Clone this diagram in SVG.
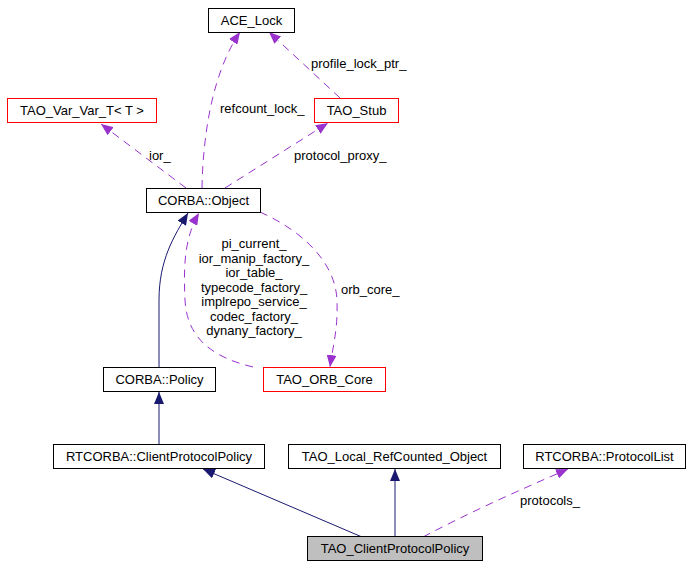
<svg xmlns="http://www.w3.org/2000/svg" width="691" height="565" viewBox="0 0 691 565">
<style>
text{font-family:"Liberation Sans",Arial,sans-serif;font-size:13px;fill:#000}
.n{fill:#fff;stroke:#000;stroke-width:1}
.r{fill:#fff;stroke:#ff0000;stroke-width:1}
.g{fill:#bfbfbf;stroke:#000;stroke-width:1}
.c{text-anchor:middle}
.b{fill:none;stroke:#191970;stroke-width:1}
.p{fill:none;stroke:#9a32cd;stroke-width:1;stroke-dasharray:8,6}
</style>
<defs>
<marker id="ab" markerUnits="userSpaceOnUse" markerWidth="12" markerHeight="10" refX="12" refY="5" orient="auto"><path d="M0,0L12,5L0,10z" fill="#191970"/></marker>
<marker id="ap" markerUnits="userSpaceOnUse" markerWidth="12" markerHeight="10" refX="12" refY="5" orient="auto"><path d="M0,0L12,5L0,10z" fill="#9a32cd"/></marker>
</defs>
<rect width="691" height="565" fill="#fff"/>
<g id="edges">
<path class="p" d="M186,188L101,124" marker-end="url(#ap)"/>
<path class="p" d="M202,188C203,130 214,70 240,32" marker-end="url(#ap)"/>
<path class="p" d="M340,98L269,32" marker-end="url(#ap)"/>
<path class="p" d="M225,188L328,123" marker-end="url(#ap)"/>
<path class="b" d="M159,367L159,300C159,260 174,236 188,213" marker-end="url(#ab)"/>
<path class="p" d="M253,367C215,358 187,340 185,300C183,260 186,235 199,213" marker-end="url(#ap)"/>
<path class="p" d="M260,212C300,230 335,260 337,300C338,330 333,345 330,367" marker-end="url(#ap)"/>
<path class="b" d="M159,444L159,392" marker-end="url(#ab)"/>
<path class="b" d="M362,537L203,469" marker-end="url(#ab)"/>
<path class="b" d="M395,537L395,469" marker-end="url(#ab)"/>
<path class="p" d="M423,537C470,512 520,490 568,469" marker-end="url(#ap)"/>
<text x="149" y="160">ior_</text>
<text x="220" y="113">refcount_lock_</text>
<text x="311" y="68">profile_lock_ptr_</text>
<text x="294" y="160">protocol_proxy_</text>
<text x="341" y="294">orb_core_</text>
<text class="c" x="254" y="248">pi_current_</text>
<text class="c" x="254" y="262.5">ior_manip_factory_</text>
<text class="c" x="254" y="277">ior_table_</text>
<text class="c" x="254" y="291.5">typecode_factory_</text>
<text class="c" x="254" y="306">implrepo_service_</text>
<text class="c" x="254" y="320.5">codec_factory_</text>
<text class="c" x="254" y="335">dynany_factory_</text>
<text x="520" y="505">protocols_</text>
</g>
<g id="ACE_Lock"><rect class="n" x="208.5" y="8.5" width="86" height="24"/><text class="c" x="251.5" y="25">ACE_Lock</text></g>
<g id="TAO_Var_Var_T"><rect class="r" x="7.5" y="98.5" width="149" height="24"/><text class="c" x="82" y="115">TAO_Var_Var_T&lt; T &gt;</text></g>
<g id="TAO_Stub"><rect class="r" x="314.5" y="98.5" width="84" height="24"/><text class="c" x="356.5" y="115">TAO_Stub</text></g>
<g id="CORBA_Object"><rect class="n" x="146.5" y="188.5" width="114" height="24"/><text class="c" x="203.5" y="205">CORBA::Object</text></g>
<g id="CORBA_Policy"><rect class="n" x="103.5" y="367.5" width="112" height="24"/><text class="c" x="159.5" y="384">CORBA::Policy</text></g>
<g id="TAO_ORB_Core"><rect class="r" x="263.5" y="367.5" width="122" height="24"/><text class="c" x="324.5" y="384">TAO_ORB_Core</text></g>
<g id="RTCORBA_ClientProtocolPolicy"><rect class="n" x="53.5" y="444.5" width="211" height="24"/><text class="c" x="159" y="461">RTCORBA::ClientProtocolPolicy</text></g>
<g id="TAO_Local_RefCounted_Object"><rect class="n" x="288.5" y="444.5" width="212" height="24"/><text class="c" x="394.5" y="461">TAO_Local_RefCounted_Object</text></g>
<g id="RTCORBA_ProtocolList"><rect class="n" x="523.5" y="444.5" width="162" height="24"/><text class="c" x="604.5" y="461">RTCORBA::ProtocolList</text></g>
<g id="TAO_ClientProtocolPolicy"><rect class="g" x="307.5" y="536.5" width="175" height="24"/><text class="c" x="395" y="553">TAO_ClientProtocolPolicy</text></g>
</svg>
